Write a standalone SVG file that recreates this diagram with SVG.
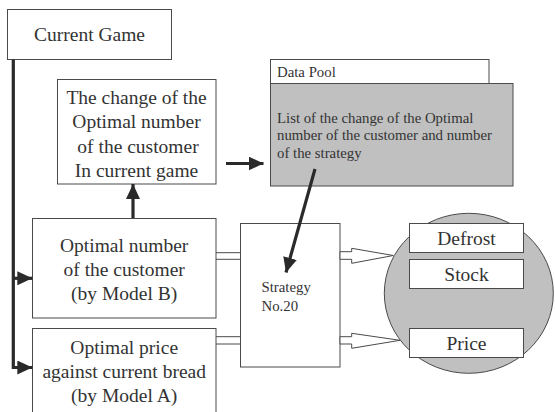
<svg xmlns="http://www.w3.org/2000/svg" width="555" height="412" viewBox="0 0 555 412" font-family="Liberation Serif, Times New Roman, serif">
<defs>
<style>
.box{fill:#fff;stroke:#4a4a4a;stroke-width:1}
.gray{fill:#c0c0c0;stroke:#4a4a4a;stroke-width:1}
.big{font-size:19.5px;fill:#333;text-anchor:middle}
.small{font-size:14.8px;fill:#333}
.thick{fill:none;stroke:#2a2a2a;stroke-width:3.2}
.thin{fill:none;stroke:#4a4a4a;stroke-width:1}
.block{fill:#fff;stroke:#4a4a4a;stroke-width:1}
</style>
<marker id="ah" markerUnits="userSpaceOnUse" markerWidth="16" markerHeight="14" refX="15" refY="7" orient="auto">
<path d="M0,0 L15,7 L0,14 Z" fill="#2a2a2a"/>
</marker>
</defs>
<g id="circle-group">
<ellipse cx="468.8" cy="293.3" rx="84.5" ry="80" class="gray"/>
</g>
<g id="current-game">
<rect x="7.5" y="9.5" width="164" height="50" class="box"/>
<text x="89.5" y="41" class="big">Current Game</text>
</g>
<g id="change-box">
<rect x="57.5" y="79.5" width="158.5" height="104.5" class="box"/>
<text class="big"><tspan x="136.5" y="103.5">The change of the</tspan><tspan x="136.5" y="128">Optimal number</tspan><tspan x="138" y="153">of the customer</tspan><tspan x="136.5" y="177">In current game</tspan></text>
</g>
<g id="data-pool">
<rect x="270.5" y="59.5" width="218.5" height="24" class="box"/>
<text x="277" y="77" class="small">Data Pool</text>
<rect x="270.5" y="83.5" width="242.5" height="102.5" class="gray"/>
<text class="small"><tspan x="277" y="122.5">List of the change of the Optimal</tspan><tspan x="277" y="140">number of the customer and number</tspan><tspan x="277" y="157.5">of the strategy</tspan></text>
</g>
<g id="optimal-number">
<rect x="32.5" y="218.5" width="183.5" height="99.5" class="box"/>
<text class="big"><tspan x="124.2" y="252">Optimal number</tspan><tspan x="124.2" y="276">of the customer</tspan><tspan x="124.2" y="300">(by Model B)</tspan></text>
</g>
<g id="optimal-price">
<rect x="32.5" y="328.5" width="183.5" height="100" class="box"/>
<text class="big"><tspan x="124.2" y="354">Optimal price</tspan><tspan x="124.2" y="378">against current bread</tspan><tspan x="124.2" y="402">(by Model A)</tspan></text>
</g>
<g id="strategy">
<rect x="240.5" y="223.5" width="99.5" height="143.5" class="box"/>
<text class="small"><tspan x="261.5" y="291.5">Strategy</tspan><tspan x="261.5" y="311">No.20</tspan></text>
</g>
<g id="defrost">
<rect x="409.5" y="223.5" width="114" height="29" class="box"/>
<text x="466.5" y="245" class="big">Defrost</text>
</g>
<g id="stock">
<rect x="409.5" y="259.5" width="114" height="29" class="box"/>
<text x="466.5" y="281" class="big">Stock</text>
</g>
<g id="price">
<rect x="409.5" y="328.5" width="114" height="29" class="box"/>
<text x="466.5" y="350" class="big">Price</text>
</g>
<g id="connectors">
<path d="M13.3,59.5 V367.5 H32.3" class="thick" marker-end="url(#ah)"/>
<path d="M13.3,278.3 H32.3" class="thick" marker-end="url(#ah)"/>
<path d="M133,218 V184" class="thick" marker-end="url(#ah)"/>
<path d="M226,163.5 H263.5" class="thick" marker-end="url(#ah)"/>
<path d="M315,169 L286,272.5" class="thick" marker-end="url(#ah)"/>
<path d="M216,252.7 H240.5 M216,259.3 H240.5" class="thin"/>
<path d="M216,336.7 H240.5 M216,344 H240.5" class="thin"/>
<polygon points="340,251.7 351.7,251.7 351.7,248.3 393.3,255.5 351.7,263.3 351.7,259.3 340,259.3" class="block"/>
<polygon points="340,336.7 351.7,336.7 351.7,333.3 400,340.3 351.7,348.3 351.7,344 340,344" class="block"/>
</g>
</svg>
